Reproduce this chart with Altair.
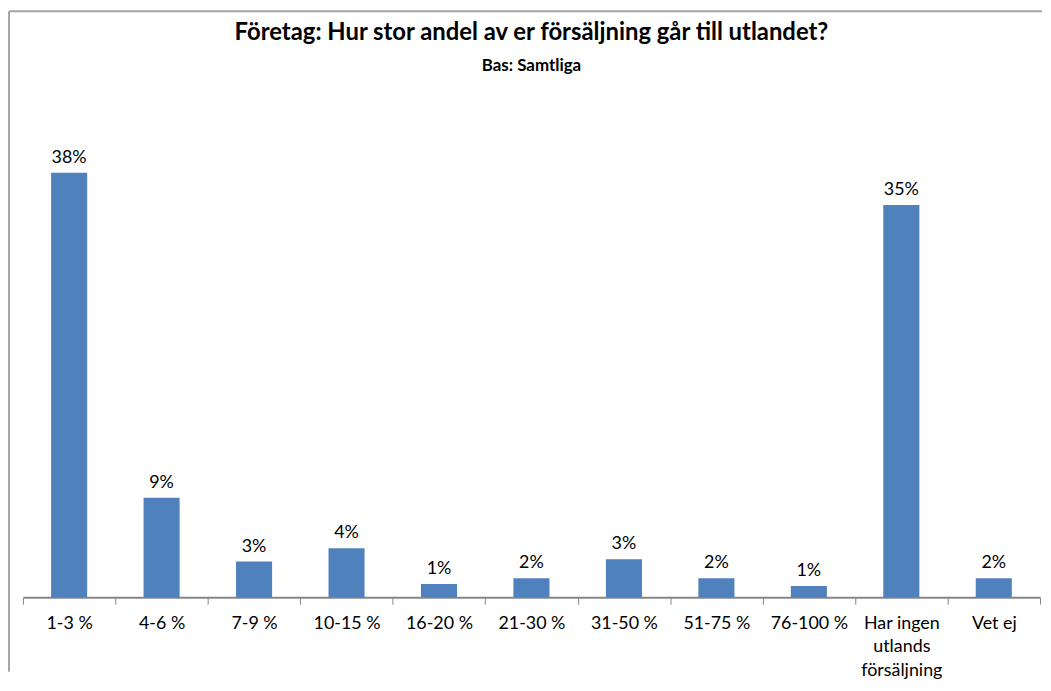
import altair as alt
import pandas as pd

categories = ["1-3 %", "4-6 %", "7-9 %", "10-15 %", "16-20 %", "21-30 %",
              "31-50 %", "51-75 %", "76-100 %", "Har ingen\nutlands\nförsäljning", "Vet ej"]
values = [38.0, 8.9, 3.2, 4.4, 1.2, 1.7, 3.4, 1.7, 1.0, 35.1, 1.7]

df = pd.DataFrame({"kategori": categories, "andel": values})

FONT = "Lato"

base = alt.Chart(df)

x_enc = alt.X(
    "kategori:N", sort=categories, title=None,
    scale=alt.Scale(paddingInner=0, paddingOuter=0),
    axis=alt.Axis(
        tickBand="extent", labelAngle=0, labelFontSize=18, labelFont=FONT,
        labelColor="#000000", labelPadding=10, tickSize=7, tickColor="#868686",
        tickWidth=1, domainColor="#868686", domainWidth=2,
        labelExpr="split(datum.label, '\\n')", labelLineHeight=24,
        labelBaseline="top",
    ),
)

bars = base.mark_bar(color="#4F81BD", width=alt.RelativeBandSize(0.39)).encode(
    x=x_enc,
    y=alt.Y("andel:Q", scale=alt.Scale(domain=[0, 40]), axis=None),
)

text = base.transform_calculate(
    lbl="format(datum.andel, '.0f') + '%'"
).mark_text(baseline="bottom", dy=-6, fontSize=18, font=FONT, color="#000000").encode(
    x=alt.X("kategori:N", sort=categories),
    y=alt.Y("andel:Q"),
    text="lbl:N",
)

frame = alt.Data(values=[{}])
left_border = alt.Chart(frame).mark_rule(color="#A6A6A6", strokeWidth=2).encode(
    x=alt.value(-14), y=alt.value(-140), y2=alt.value(525)
)
top_border = alt.Chart(frame).mark_rule(color="#A6A6A6", strokeWidth=2).encode(
    x=alt.value(-14), x2=alt.value(1026), y=alt.value(-140)
)

chart = alt.layer(bars, text, left_border, top_border).properties(
    width=1024,
    height=450,
    padding=0,
    background="white",
    title=alt.TitleParams(
        text="Företag: Hur stor andel av er försäljning går till utlandet?",
        subtitle="Bas: Samtliga",
        anchor="middle", font=FONT, fontSize=24, fontWeight="bold", color="#000000",
        subtitleFont=FONT, subtitleFontSize=17, subtitleFontWeight="bold",
        subtitleColor="#000000", subtitlePadding=13, offset=-64,
    ),
).configure_view(stroke=None)

chart.save("out.html", embed_options={"renderer": "svg", "actions": False})
